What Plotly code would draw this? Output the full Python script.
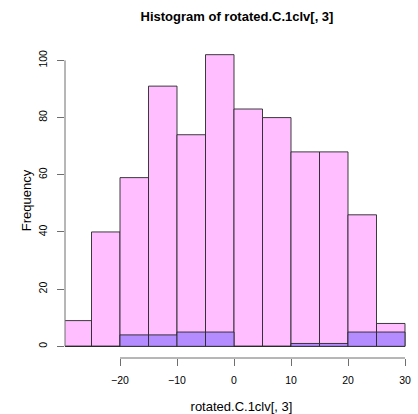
import plotly.graph_objects as go

bin_edges = [-30, -25, -20, -15, -10, -5, 0, 5, 10, 15, 20, 25, 30]
counts_all = [9, 40, 59, 91, 74, 102, 83, 80, 68, 68, 46, 8]
counts_sub = [0, 0, 4, 4, 5, 5, 0, 0, 1, 1, 5, 5]
x_ticks = [-20, -10, 0, 10, 20, 30]
y_ticks = [0, 20, 40, 60, 80, 100]

centers = [(a + b) / 2 for a, b in zip(bin_edges[:-1], bin_edges[1:])]
widths = [b - a for a, b in zip(bin_edges[:-1], bin_edges[1:])]

edge = dict(color="rgba(40,40,40,0.9)", width=1)
fig = go.Figure()
fig.add_trace(go.Bar(x=centers, y=counts_all, width=widths,
                     marker=dict(color="rgb(255,190,255)", line=edge)))
fig.add_trace(go.Bar(x=centers, y=counts_sub, width=widths,
                     marker=dict(color="rgb(180,140,255)", line=edge)))

font = "Liberation Sans, Arial, sans-serif"
axcol = "rgb(110,110,110)"
fig.update_layout(
    width=418, height=414, barmode="overlay", showlegend=False,
    plot_bgcolor="white", paper_bgcolor="white",
    margin=dict(l=65, r=0, t=43, b=56, autoexpand=False),
    font=dict(family=font, size=10.5, color="black"),
    title=dict(text="<b>Histogram of rotated.C.1clv[, 3]</b>", x=237 / 418, xanchor="center",
               y=1 - 16 / 414, yanchor="middle", font=dict(size=13, family=font)),
    xaxis=dict(range=[-29.65, 32.28], tickvals=x_ticks, ticks="outside", ticklen=7,
               tickcolor=axcol, showgrid=False, zeroline=False, showline=False, automargin=False,
               ticklabelstandoff=5,
               title=dict(text="rotated.C.1clv[, 3]", standoff=19)),
    yaxis=dict(range=[-4.08, 106.08], tickvals=y_ticks, ticks="outside", ticklen=7,
               tickcolor=axcol, tickangle=-90, showgrid=False, zeroline=False, showline=False,
               automargin=False,
               title=dict(text="Frequency", standoff=2), ticklabelstandoff=6),
)
# axis lines spanning only the tick range, like base R
fig.add_shape(type="line", xref="x", yref="paper", x0=min(x_ticks), x1=max(x_ticks), y0=0, y1=0,
              line=dict(color=axcol, width=1))
fig.add_shape(type="line", xref="paper", yref="y", x0=0, x1=0, y0=min(y_ticks), y1=max(y_ticks),
              line=dict(color=axcol, width=1))
fig.write_html("out.html", config={"displayModeBar": False},
               post_script="document.body.style.margin='0';")
